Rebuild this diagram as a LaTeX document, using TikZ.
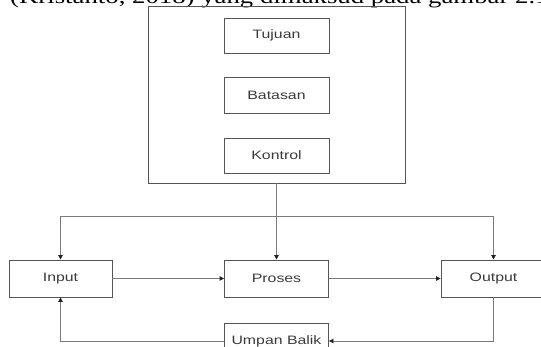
\documentclass[tikz,border=0pt]{standalone}
\usepackage{fontspec}
\usetikzlibrary{arrows.meta}
\newfontfamily\boxfont[FakeStretch=1.3]{Liberation Sans}
\newfontfamily\topfont[FakeStretch=1.3]{Liberation Serif}
\definecolor{boxline}{HTML}{555555}
\definecolor{connline}{HTML}{7A7A7A}
\definecolor{tiptone}{HTML}{222222}
\definecolor{txt}{HTML}{3A3A3A}
\tikzset{
  blk/.style={draw=boxline, line width=0.9pt, inner sep=0pt, text=txt,
    font=\boxfont\fontsize{12.2}{14}\selectfont},
  conn/.style={draw=connline, line width=0.9pt},
  arr/.style={conn, -{Triangle[length=4.5pt,width=4.5pt,color=tiptone]}},
}
\begin{document}
\begin{tikzpicture}[x=1pt,y=-1pt]
\useasboundingbox (0,0) rectangle (541,347);
\clip (0,0) rectangle (541,347);
\node[anchor=base west, inner sep=0pt, font=\topfont\fontsize{20.6}{23}\selectfont] (cap) at (10,4) {(Kristanto, 2018) yang dimaksud pada gambar 2.1};
% system box
\node[blk, minimum width=257pt, minimum height=177pt] (sys) at (276.5,94.5) {};
\node[blk, minimum width=105pt, minimum height=35pt] (tujuan) at (276.5,35.5) {Tujuan};
\node[blk, minimum width=105pt, minimum height=36pt] (batasan) at (276.5,95) {Batasan};
\node[blk, minimum width=105pt, minimum height=35pt] (kontrol) at (276.5,155.5) {Kontrol};
% main row
\node[blk, minimum width=103pt, minimum height=37pt] (input) at (60.5,278.5) {Input};
\node[blk, minimum width=104pt, minimum height=37pt] (proses) at (276.5,278.5) {Proses};
\node[blk, minimum width=105pt, minimum height=37pt] (output) at (493.5,278.5) {Output};
\node[blk, minimum width=104pt, minimum height=36pt] (umpan) at (276.5,341) {Umpan Balik};
\coordinate (bus) at (276.5,216.5);
% connectors
\draw[arr] (sys.south) -- (proses.north);
\draw[arr] (bus) -| (input.north);
\draw[arr] (bus) -| (output.north);
\draw[arr] (input.east) -- (proses.west);
\draw[arr] (proses.east) -- (output.west);
\draw[arr] (output.south) |- (umpan.east);
\draw[arr] (umpan.west) -| (input.south);
\end{tikzpicture}
\end{document}
